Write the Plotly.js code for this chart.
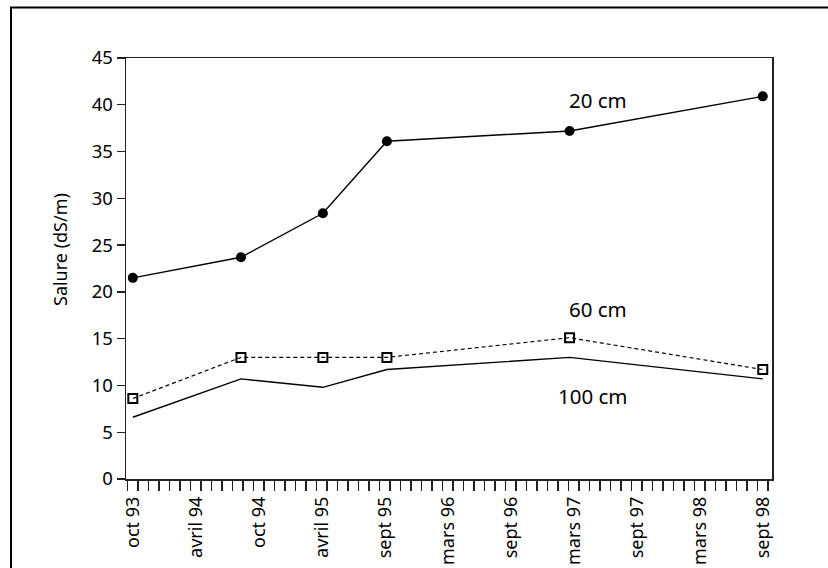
<!DOCTYPE html>
<html>
<head>
<meta charset="utf-8">
<script src="https://cdn.plot.ly/plotly-3.0.1.min.js"></script>
<style>html,body{margin:0;padding:0;background:#fff;}#chart{width:828px;height:568px;}</style>
</head>
<body>
<div id="chart"></div>
<script>
// month index since oct 93
const tickPositions = [0, 6, 12, 18, 24, 30, 36, 42, 48, 54, 60];
const tickLabels = ["oct 93", "avril 94", "oct 94", "avril 95", "sept 95", "mars 96", "sept 96", "mars 97", "sept 97", "mars 98", "sept 98"];
const sampleMonths = [0, 10.3, 18.1, 24.2, 41.6, 60];
const salure20 = [21.5, 23.7, 28.4, 36.1, 37.2, 40.9];
const salure60 = [8.6, 13.0, 13.0, 13.0, 15.1, 11.7];
const salure100 = [6.6, 10.7, 9.8, 11.7, 13.0, 10.7];

const FONT = "Noto Sans, Open Sans, sans-serif";
const FS = 18;
const FA = 20.5;

const traces = [
  {x: sampleMonths, y: salure100, mode: "lines", line: {color: "#000", width: 1.4}, showlegend: false},
  {x: sampleMonths, y: salure60, mode: "lines+markers", line: {color: "#000", width: 1.2, dash: "4px,3px"},
   marker: {symbol: "square-open", size: 9, color: "#000", line: {width: 2, color: "#000"}}, showlegend: false},
  {x: sampleMonths, y: salure20, mode: "lines+markers", line: {color: "#000", width: 1.4},
   marker: {symbol: "circle", size: 10, color: "#000"}, showlegend: false}
];

const layout = {
  width: 828, height: 568,
  margin: {l: 126, r: 56, t: 58, b: 89, pad: 0},
  paper_bgcolor: "#fff", plot_bgcolor: "#fff",
  font: {family: FONT, size: FS, color: "#000"},
  xaxis: {
    range: [-0.65, 60.88], showgrid: false, zeroline: false,
    showline: true, linecolor: "#222", linewidth: 1.5, mirror: true,
    tickmode: "array", tickvals: tickPositions, ticktext: tickLabels,
    tickangle: -90, ticks: "", ticklabelstandoff: 9,
    tickfont: {family: FONT, size: FS, color: "#000"},
    minor: {ticks: "outside", tickmode: "linear", tick0: -0.5, dtick: 1, ticklen: 10, tickcolor: "#222", tickwidth: 1.3, showgrid: false}
  },
  yaxis: {
    range: [0, 45], dtick: 5, showgrid: false, zeroline: false,
    showline: true, linecolor: "#222", linewidth: 1.5, mirror: true,
    ticks: "outside", ticklen: 8, tickcolor: "#222", tickwidth: 1.3,
    tickfont: {family: FONT, size: FS + 0.5, color: "#000"}
  },
  annotations: [
    {text: "Salure (dS/m)", xref: "paper", yref: "paper", x: (60 - 126) / 646, y: (479 - 250) / 421,
     textangle: -90, showarrow: false, xanchor: "center", yanchor: "middle", font: {family: FONT, size: FS, color: "#000"}},
    {text: "20 cm", x: 44.3, y: 40.5, showarrow: false, font: {family: FONT, size: FA, color: "#000"}},
    {text: "60 cm", x: 44.3, y: 18.2, showarrow: false, font: {family: FONT, size: FA, color: "#000"}},
    {text: "100 cm", x: 43.8, y: 8.9, showarrow: false, font: {family: FONT, size: FA, color: "#000"}}
  ],
  shapes: [
    {type: "rect", xref: "paper", yref: "paper", x0: (11 - 126) / 646, x1: (860 - 126) / 646,
     y0: (479 - 600) / 421, y1: (479 - 7.5) / 421, line: {color: "#000", width: 2}, fillcolor: "rgba(0,0,0,0)", layer: "below"}
  ]
};

Plotly.newPlot("chart", traces, layout, {displayModeBar: false, staticPlot: true});
</script>
</body>
</html>
